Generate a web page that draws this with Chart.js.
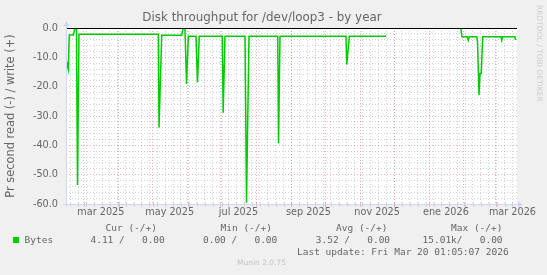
<!DOCTYPE html>
<html>
<head>
<meta charset="utf-8">
<title>Disk throughput for /dev/loop3 - by year</title>
<script src="https://cdn.jsdelivr.net/npm/chart.js@4.4.1/dist/chart.umd.min.js"></script>
<style>
  html, body { margin: 0; padding: 0; background: #f0f0f0; }
  #wrap { position: relative; width: 547px; height: 275px; overflow: hidden; }
  #chart { position: absolute; left: 0; top: 0; }
  .title { position: absolute; left: 262px; top: 10px; transform: translateX(-50%); font-family: 'DejaVu Sans', sans-serif; font-size: 11.9px; line-height: 14px; color: #666; white-space: pre; }
  .mono { position: absolute; white-space: pre; font-family: 'DejaVu Sans Mono', monospace; font-size: 9.5px; line-height: 12px; color: #666; }
  .swatch { position: absolute; left: 13px; top: 237px; width: 6px; height: 6px; background: #00cc00; }
  .munin { position: absolute; left: 237px; top: 258px; font-family: 'DejaVu Sans', sans-serif; font-size: 7.5px; line-height: 10px; color: #c4c4c4; white-space: pre; }
  .rrd { position: absolute; left: 535px; top: 5px; writing-mode: vertical-rl; font-family: 'DejaVu Sans', sans-serif; font-size: 7.5px; color: #cdcdcd; white-space: pre; }
</style>
</head>
<body>
<div id="wrap">
  <canvas id="chart" width="547" height="275"></canvas>
  <div class="title">Disk throughput for /dev/loop3 - by year</div>
  <div id="legend"></div>
  <div class="rrd">RRDTOOL / TOBI OETIKER</div>
  <div class="munin">Munin 2.0.75</div>
</div>
<script>
// Time range of the munin "by year" graph: 400 days up to the last update
const startTime = Date.UTC(2025, 1, 13, 1, 5, 7);
const spanDays = 400;

// x axis labels (every second month) and the month each one belongs to
const monthLabels = ['mar 2025', 'may 2025', 'jul 2025', 'sep 2025', 'nov 2025', 'ene 2026', 'mar 2026'];
const labelMonths = [[2025, 2], [2025, 4], [2025, 6], [2025, 8], [2025, 10], [2026, 0], [2026, 2]];

// y axis labels
const yValues = [0, -10, -20, -30, -40, -50, -60];
const yLabels = ['0.0', '-10.0', '-20.0', '-30.0', '-40.0', '-50.0', '-60.0'];

// read bytes per second (drawn below zero), days since start, null = no data
const readDays = [0.6, 2.0, 2.9, 6.5, 8.0, 9.3, 10.2, 11.5, 81.9, 82.5, 84.9, 102.6, 103.8, 105.5, 106.9, 108.5,
  115.3, 116.6, 118.2, 138.6, 139.4, 141.0, 158.8, 160.1, 162.3, 187.8, 188.5, 189.8, 248.3, 249.0, 251.3, 283.8,
  317.0, 350.1, 351.2, 355.9, 356.8, 357.7, 364.3, 365.0, 366.3, 367.2, 368.3, 369.6, 385.8, 386.4, 387.3, 398.2, 398.8];
const readBytes = [11.5, 14.1, 2.4, 2.4, 0, 0, 53.5, 2.1, 2.1, 33.9, 2.5, 2.5, 0, 0, 19.1, 2.8,
  2.8, 18.5, 2.8, 2.8, 28.9, 2.8, 2.8, 59.6, 2.8, 2.8, 39.3, 2.8, 2.8, 12.4, 2.8, 2.8,
  null, 0, 3.0, 3.0, 4.2, 3.0, 3.0, 4.7, 22.8, 15.5, 15.5, 3.0, 3.0, 4.2, 3.0, 3.0, 4.1];

// legend statistics
const statHeads = ['Cur (-/+)', 'Min (-/+)', 'Avg (-/+)', 'Max (-/+)'];
const readStats = ['4.11', '0.00', '3.52', '15.01k'];
const writeStats = ['0.00', '0.00', '0.00', '0.00'];
const lastUpdate = 'Last update: Fri Mar 20 01:05:07 2026';

const dayOf = (y, m, d) => (Date.UTC(y, m, d) - startTime) / 864e5;

// x grid: weekly minor lines, monthly major lines, labels in the middle of the month
function buildXTicks(scale) {
  const ticks = [];
  for (let d = dayOf(2025, 1, 17); d <= spanDays; d += 7) {
    ticks.push({ value: d, kind: 'minor' });
  }
  for (let m = 1; m < 16; m++) {
    const d = dayOf(2025, m, 1);
    if (d >= 0 && d <= spanDays) ticks.push({ value: d, kind: 'major' });
  }
  labelMonths.forEach((ym, i) => {
    ticks.push({ value: dayOf(ym[0], ym[1], 1) + 15, kind: 'label', lbl: monthLabels[i] });
  });
  ticks.sort((a, b) => a.value - b.value);
  scale.ticks = ticks;
}

function buildYTicks(scale) {
  const ticks = [];
  for (let v = -60; v <= 0; v += 2) ticks.push({ value: v, kind: v % 10 === 0 ? 'major' : 'minor' });
  scale.ticks = ticks;
}

const majorGrid = 'rgba(222, 79, 79, 0.45)';
const minorGrid = 'rgba(140, 140, 140, 0.38)';
const gridColor = kind => kind === 'major' ? majorGrid : kind === 'minor' ? minorGrid : 'rgba(0, 0, 0, 0)';

// white canvas, zero rule, axes with arrows, like rrdtool
const muninFrame = {
  id: 'muninFrame',
  beforeDraw(chart) {
    const { ctx, chartArea: a } = chart;
    ctx.save();
    ctx.fillStyle = '#f0f0f0';
    ctx.fillRect(0, 0, chart.width, chart.height);
    ctx.fillStyle = '#ffffff';
    ctx.fillRect(a.left, a.top, a.right - a.left, a.bottom - a.top);
    ctx.restore();
  },
  afterDatasetsDraw(chart) {
    const { ctx, chartArea: a, scales } = chart;
    const y0 = Math.round(scales.y.getPixelForValue(0)) + 0.5;
    const yb = Math.round(a.bottom) + 0.5;
    const xl = Math.round(a.left) + 0.5;
    ctx.save();
    ctx.lineWidth = 1;
    ctx.strokeStyle = '#000000';
    ctx.beginPath();
    ctx.moveTo(a.left, y0);
    ctx.lineTo(a.right, y0);
    ctx.stroke();
    // ticks on the x axis
    scales.x.ticks.forEach(t => {
      if (t.kind === 'label') return;
      const x = Math.round(scales.x.getPixelForValue(t.value)) + 0.5;
      ctx.strokeStyle = t.kind === 'major' ? majorGrid : minorGrid;
      ctx.beginPath();
      ctx.moveTo(x, yb - 2);
      ctx.lineTo(x, yb + 2);
      ctx.stroke();
    });
    ctx.strokeStyle = '#cfd6f8';
    ctx.fillStyle = '#cfd6f8';
    ctx.beginPath();
    ctx.moveTo(a.left - 3, yb);
    ctx.lineTo(a.right + 2, yb);
    ctx.moveTo(xl, a.bottom + 3);
    ctx.lineTo(xl, a.top - 2);
    ctx.stroke();
    ctx.beginPath();
    ctx.moveTo(a.right + 6, yb);
    ctx.lineTo(a.right + 1, yb - 3);
    ctx.lineTo(a.right + 1, yb + 3);
    ctx.closePath();
    ctx.fill();
    ctx.beginPath();
    ctx.moveTo(xl, a.top - 7);
    ctx.lineTo(xl - 3, a.top - 2);
    ctx.lineTo(xl + 3, a.top - 2);
    ctx.closePath();
    ctx.fill();
    ctx.restore();
  }
};

const tickFont = { family: 'DejaVu Sans', size: 9.7 };

new Chart(document.getElementById('chart'), {
  type: 'line',
  data: {
    datasets: [{
      label: 'Bytes',
      data: readDays.map((d, i) => ({ x: d, y: readBytes[i] === null ? null : -readBytes[i] })),
      borderColor: '#00cc00',
      borderWidth: 1.5,
      pointRadius: 0,
      tension: 0,
      spanGaps: false
    }]
  },
  options: {
    responsive: false,
    animation: false,
    events: [],
    layout: { padding: { top: 28, right: 30, bottom: 51, left: 0 } },
    plugins: {
      legend: { display: false },
      tooltip: { enabled: false },
      title: { display: false }
    },
    scales: {
      x: {
        type: 'linear',
        min: 0,
        max: spanDays,
        afterBuildTicks: buildXTicks,
        afterFit: s => { s.height = 20; },
        border: { display: false, dash: [1, 2] },
        grid: { drawTicks: false, color: c => gridColor(c.tick.kind) },
        ticks: {
          autoSkip: false,
          maxRotation: 0,
          padding: 3,
          color: '#666666',
          font: tickFont,
          callback: (v, i, ticks) => ticks[i].lbl || ''
        }
      },
      y: {
        min: -60,
        max: 0,
        afterBuildTicks: buildYTicks,
        afterFit: s => { s.width = 66; },
        border: { display: false, dash: [1, 2] },
        grid: { drawTicks: false, color: c => gridColor(c.tick.kind) },
        ticks: {
          autoSkip: false,
          padding: 8,
          color: '#666666',
          font: tickFont,
          callback: v => {
            const i = yValues.indexOf(v);
            return i >= 0 ? yLabels[i] : '';
          }
        },
        title: {
          display: true,
          text: 'Pr second read (-) / write (+)',
          color: '#666666',
          font: { family: 'DejaVu Sans', size: 11.4 },
          padding: { top: 4.5, bottom: 0 }
        }
      }
    }
  },
  plugins: [muninFrame]
});

// legend rows under the graph
const legend = document.getElementById('legend');
function addText(cls, x, y, text) {
  const el = document.createElement('div');
  el.className = cls;
  el.style.left = x + 'px';
  el.style.top = (y - 6) + 'px';
  el.textContent = text;
  legend.appendChild(el);
}
const headX = [105.5, 220.5, 336, 451];
const colX = [79, 191.5, 304.3, 416.8];
statHeads.forEach((h, i) => addText('mono', headX[i], 227.5, h));
const sw = document.createElement('div');
sw.className = 'swatch';
legend.appendChild(sw);
addText('mono', 24.5, 239.5, 'Bytes');
readStats.forEach((r, i) => {
  const cell = (r.endsWith('k') ? r : r + ' ').padStart(7) + '/' + writeStats[i].padStart(7);
  addText('mono', colX[i], 239.5, cell);
});
addText('mono', 297, 251.5, lastUpdate);
</script>
</body>
</html>
